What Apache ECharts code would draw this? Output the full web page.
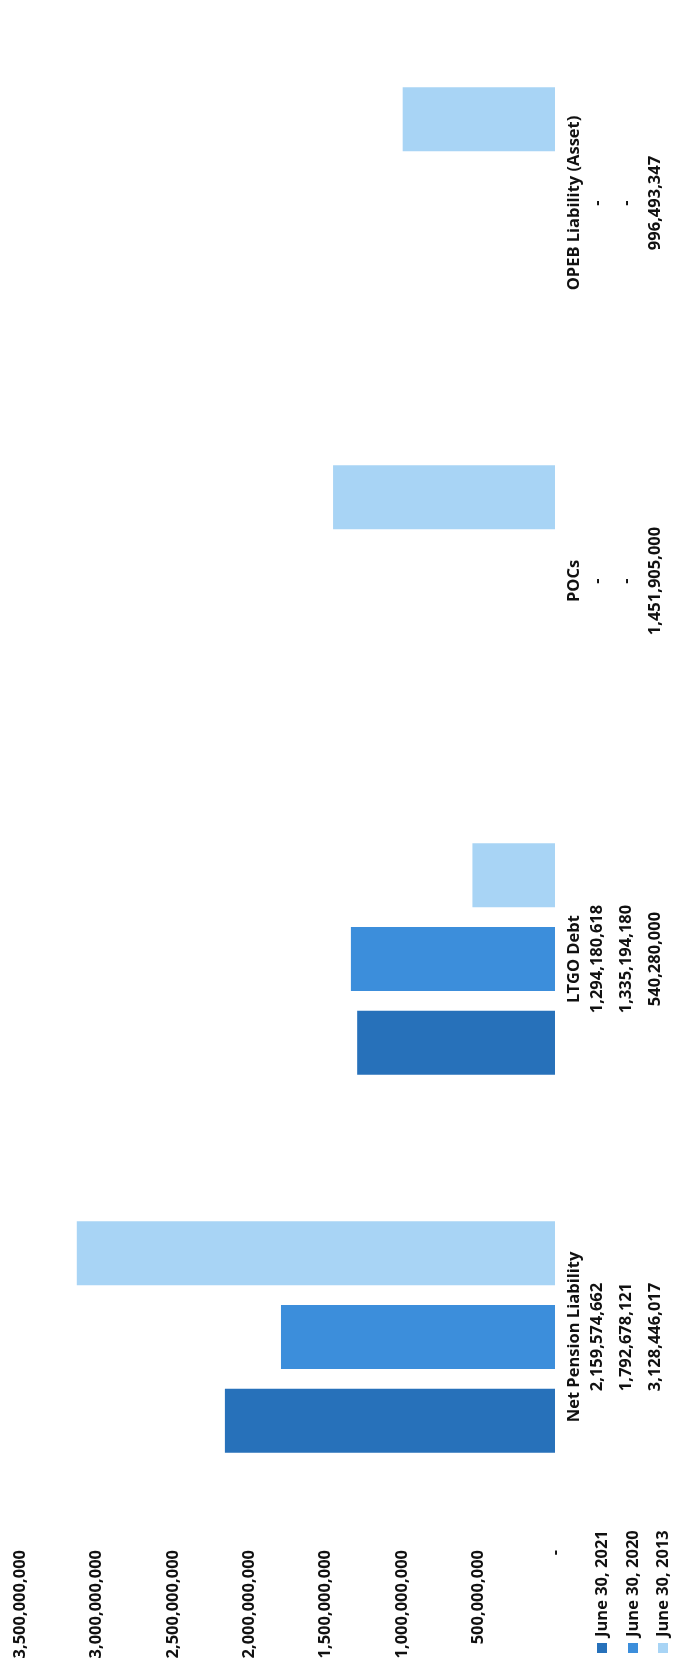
<!DOCTYPE html>
<html>
<head>
<meta charset="utf-8">
<script src="https://cdn.jsdelivr.net/npm/echarts@6/dist/echarts.min.js"></script>
<style>
html,body{margin:0;padding:0;background:#fff;}
#chart{width:679px;height:1680px;}
</style>
</head>
<body>
<div id="chart"></div>
<script>
const categories = ['Net Pension Liability', 'LTGO Debt', 'POCs', 'OPEB Liability (Asset)'];
const seriesNames = ['June 30, 2021', 'June 30, 2020', 'June 30, 2013'];
const values2021 = [2159574662, 1294180618, null, null];
const values2020 = [1792678121, 1335194180, null, null];
const values2013 = [3128446017, 540280000, 1451905000, 996493347];
const seriesColors = ['#2771BA', '#3C8EDB', '#A8D4F5'];
const axisMin = 0, axisMax = 3500000000, axisInterval = 500000000;

const allValues = [values2021, values2020, values2013];
const FONT = '"Open Sans", "Liberation Sans", sans-serif';
function fmt(v) { return (v === null || v === 0) ? '-' : v.toLocaleString('en-US'); }

const chart = echarts.init(document.getElementById('chart'));

const legendX = [602, 633, 663];
const graphics = [];
seriesNames.forEach((name, i) => {
  graphics.push({
    type: 'rect', left: legendX[i] - 5, top: 1643,
    shape: { width: 10, height: 10 }, style: { fill: seriesColors[i] }
  });
  graphics.push({
    type: 'text', x: legendX[i], y: 1637, rotation: Math.PI / 2,
    style: { text: name, fill: '#111', font: 'bold 16.5px ' + FONT, align: 'left', verticalAlign: 'middle' }
  });
});

// horizontal bars: ECharts stacks the first series at the top of each band,
// so feed the series in reverse to put June 30, 2021 at the bottom.
const order = [2, 1, 0];

chart.setOption({
  animation: false,
  backgroundColor: '#ffffff',
  textStyle: { fontFamily: FONT },
  grid: { left: 20, right: 124, top: 14, bottom: 154, containLabel: false },
  xAxis: {
    type: 'value', inverse: true, position: 'bottom',
    min: axisMin, max: axisMax, interval: axisInterval,
    splitLine: { show: false }, axisLine: { show: false }, axisTick: { show: false },
    axisLabel: {
      rotate: 90, margin: 24, color: '#111', fontWeight: 'bold', fontSize: 16.5, fontFamily: FONT,
      formatter: v => fmt(v)
    }
  },
  yAxis: {
    type: 'category', data: categories, position: 'right',
    axisLine: { show: false }, axisTick: { show: false }, splitLine: { show: false },
    axisLabel: {
      rotate: 90, margin: 10, interval: 0,
      formatter: (value, idx) => {
        let s = '{n|' + value + '}';
        allValues.forEach(arr => { s += '\n{v|' + fmt(arr[idx]) + '}'; });
        return s;
      },
      rich: {
        n: { fontWeight: 'bold', fontSize: 16.5, fontFamily: FONT, color: '#111', lineHeight: 18 },
        v: { fontWeight: 'bold', fontSize: 16.5, fontFamily: FONT, color: '#111', lineHeight: 29 }
      }
    }
  },
  series: order.map(i => ({
    name: seriesNames[i], type: 'bar', data: allValues[i],
    barWidth: 64, barGap: '31%',
    itemStyle: { color: seriesColors[i] }
  })),
  graphic: graphics
});
</script>
</body>
</html>
